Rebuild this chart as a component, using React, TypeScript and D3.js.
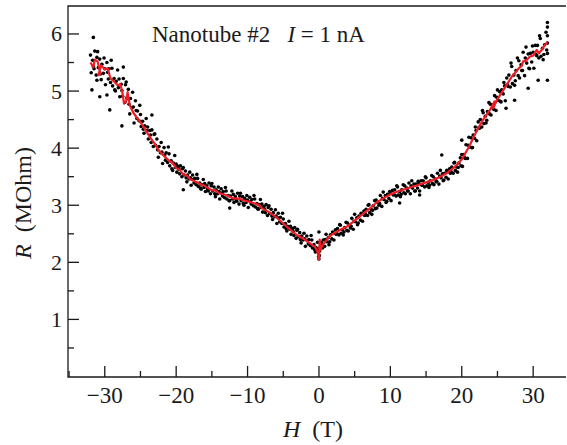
import * as d3 from "d3";
import React, { useEffect, useRef } from "react";

// measured points, negative field branch [H (T), R (MOhm)]
const scatterLeft: [number, number][] = [
  [-32, 5.63], [-31.9, 5.32], [-31.7, 5.54], [-31.6, 5.43],
  [-31.5, 5.39], [-31.4, 5.7], [-31.2, 5.28], [-31.1, 5.59],
  [-31, 5.69], [-30.9, 5.41], [-30.7, 5.56], [-30.6, 5.3],
  [-30.5, 5.2], [-30.4, 5.47], [-30.2, 5.31], [-30.1, 5.58],
  [-30, 5.39], [-29.9, 5.11], [-29.7, 5.5], [-29.6, 5.33],
  [-29.5, 5.21], [-29.4, 5.39], [-29.2, 5.15], [-29.1, 5.54],
  [-29, 5.4], [-28.9, 5.09], [-28.7, 5.22], [-28.6, 5.02],
  [-28.5, 5.0], [-28.4, 5.17], [-28.2, 5.37], [-28.1, 5.06],
  [-28, 5.21], [-27.9, 4.9], [-27.7, 5.12], [-27.6, 5.01],
  [-27.5, 4.91], [-27.4, 5.22], [-27.2, 4.8], [-27.1, 5.11],
  [-27, 5.16], [-26.9, 4.88], [-26.7, 5.03], [-26.6, 4.77],
  [-26.5, 4.6], [-26.4, 4.87], [-26.2, 4.71], [-26.1, 4.98],
  [-26, 4.72], [-25.9, 4.44], [-25.7, 4.83], [-25.6, 4.66],
  [-25.5, 4.52], [-25.4, 4.65], [-25.2, 4.48], [-25.1, 4.75],
  [-25, 4.59], [-24.9, 4.38], [-24.7, 4.47], [-24.6, 4.33],
  [-24.5, 4.26], [-24.4, 4.39], [-24.2, 4.52], [-24.1, 4.31],
  [-24, 4.37], [-23.9, 4.16], [-23.7, 4.31], [-23.6, 4.23],
  [-23.5, 4.1], [-23.4, 4.32], [-23.2, 4.03], [-23.1, 4.24],
  [-23, 4.25], [-22.9, 4.05], [-22.7, 4.16], [-22.6, 3.97],
  [-22.5, 3.84], [-22.4, 4.03], [-22.2, 3.92], [-22.1, 4.1],
  [-22, 3.93], [-21.9, 3.73], [-21.7, 4.01], [-21.6, 3.88],
  [-21.5, 3.79], [-21.4, 3.92], [-21.2, 3.75], [-21.1, 4.02],
  [-21, 3.9], [-20.9, 3.69], [-20.7, 3.78], [-20.6, 3.64],
  [-20.5, 3.61], [-20.4, 3.74], [-20.2, 3.87], [-20.1, 3.66],
  [-20, 3.72], [-19.9, 3.58], [-19.7, 3.68], [-19.6, 3.63],
  [-19.5, 3.55], [-19.4, 3.69], [-19.2, 3.5], [-19.1, 3.64],
  [-19, 3.66], [-18.9, 3.53], [-18.7, 3.6], [-18.6, 3.48],
  [-18.5, 3.41], [-18.4, 3.53], [-18.2, 3.46], [-18.1, 3.58],
  [-18, 3.48], [-17.9, 3.35], [-17.7, 3.53], [-17.6, 3.45],
  [-17.5, 3.39], [-17.4, 3.47], [-17.2, 3.36], [-17.1, 3.54],
  [-17, 3.47], [-16.9, 3.33], [-16.7, 3.39], [-16.6, 3.3],
  [-16.5, 3.28], [-16.4, 3.36], [-16.2, 3.45], [-16.1, 3.31],
  [-16, 3.38], [-15.9, 3.24], [-15.7, 3.34], [-15.6, 3.29],
  [-15.5, 3.25], [-15.4, 3.39], [-15.2, 3.2], [-15.1, 3.34],
  [-15, 3.38], [-14.9, 3.25], [-14.7, 3.32], [-14.6, 3.2],
  [-14.5, 3.15], [-14.4, 3.27], [-14.2, 3.2], [-14.1, 3.32],
  [-14, 3.24], [-13.9, 3.11], [-13.7, 3.29], [-13.6, 3.21],
  [-13.5, 3.16], [-13.4, 3.24], [-13.2, 3.13], [-13.1, 3.31],
  [-13, 3.25], [-12.9, 3.11], [-12.7, 3.17], [-12.6, 3.08],
  [-12.5, 3.08], [-12.4, 3.16], [-12.2, 3.25], [-12.1, 3.11],
  [-12, 3.19], [-11.9, 3.05], [-11.7, 3.15], [-11.6, 3.1],
  [-11.5, 3.07], [-11.4, 3.21], [-11.2, 3.02], [-11.1, 3.16],
  [-11, 3.21], [-10.9, 3.08], [-10.7, 3.15], [-10.6, 3.03],
  [-10.5, 3.0], [-10.4, 3.12], [-10.2, 3.05], [-10.1, 3.17],
  [-10, 3.09], [-9.9, 2.96], [-9.7, 3.14], [-9.6, 3.06],
  [-9.5, 3.02], [-9.4, 3.1], [-9.2, 2.99], [-9.1, 3.17],
  [-9, 3.11], [-8.9, 2.97], [-8.7, 3.03], [-8.6, 2.94],
  [-8.5, 2.93], [-8.4, 3.01], [-8.2, 3.1], [-8.1, 2.96],
  [-8, 3.02], [-7.9, 2.88], [-7.7, 2.98], [-7.6, 2.93],
  [-7.5, 2.87], [-7.4, 3.01], [-7.2, 2.82], [-7.1, 2.96],
  [-7, 2.99], [-6.9, 2.86], [-6.7, 2.93], [-6.6, 2.81],
  [-6.5, 2.75], [-6.4, 2.87], [-6.2, 2.8], [-6.1, 2.92],
  [-6, 2.81], [-5.9, 2.68], [-5.7, 2.86], [-5.6, 2.78],
  [-5.5, 2.71], [-5.4, 2.79], [-5.2, 2.68], [-5.1, 2.86],
  [-5, 2.76], [-4.9, 2.62], [-4.7, 2.68], [-4.6, 2.59],
  [-4.5, 2.55], [-4.4, 2.63], [-4.2, 2.72], [-4.1, 2.58],
  [-4, 2.63], [-3.9, 2.49], [-3.7, 2.59], [-3.6, 2.54],
  [-3.5, 2.47], [-3.4, 2.61], [-3.2, 2.42], [-3.1, 2.56],
  [-3, 2.58], [-2.9, 2.45], [-2.7, 2.52], [-2.6, 2.4],
  [-2.5, 2.34], [-2.4, 2.46], [-2.2, 2.39], [-2.1, 2.51],
  [-2, 2.41], [-1.9, 2.28], [-1.7, 2.46], [-1.6, 2.38],
  [-1.5, 2.32], [-1.4, 2.4], [-1.2, 2.29], [-1.1, 2.47],
  [-1, 2.39], [-0.9, 2.25], [-0.7, 2.31], [-0.6, 2.22],
  [-0.5, 2.18], [-0.4, 2.26], [-0.2, 2.35], [-0.1, 2.21],
];

// measured points, positive field branch
const scatterRight: [number, number][] = [
  [0, 2.24], [0.1, 2.2], [0.3, 2.35], [0.4, 2.32],
  [0.5, 2.25], [0.6, 2.39], [0.8, 2.28], [0.9, 2.4],
  [1, 2.49], [1.1, 2.36], [1.3, 2.43], [1.4, 2.31],
  [1.5, 2.36], [1.6, 2.48], [1.8, 2.41], [1.9, 2.53],
  [2, 2.52], [2.1, 2.39], [2.3, 2.57], [2.4, 2.49],
  [2.5, 2.51], [2.6, 2.59], [2.8, 2.48], [2.9, 2.66],
  [3, 2.65], [3.1, 2.51], [3.3, 2.57], [3.4, 2.48],
  [3.5, 2.53], [3.6, 2.61], [3.8, 2.7], [3.9, 2.56],
  [4, 2.69], [4.1, 2.55], [4.3, 2.65], [4.4, 2.6],
  [4.5, 2.63], [4.6, 2.77], [4.8, 2.58], [4.9, 2.72],
  [5, 2.84], [5.1, 2.71], [5.3, 2.78], [5.4, 2.66],
  [5.5, 2.69], [5.6, 2.81], [5.8, 2.74], [5.9, 2.86],
  [6, 2.85], [6.1, 2.72], [6.3, 2.9], [6.4, 2.82],
  [6.5, 2.85], [6.6, 2.93], [6.8, 2.82], [6.9, 3.0],
  [7, 3.01], [7.1, 2.87], [7.3, 2.93], [7.4, 2.84],
  [7.5, 2.91], [7.6, 2.99], [7.8, 3.08], [7.9, 2.94],
  [8, 3.09], [8.1, 2.95], [8.3, 3.05], [8.4, 3.0],
  [8.5, 3.03], [8.6, 3.17], [8.8, 2.98], [8.9, 3.12],
  [9, 3.23], [9.1, 3.1], [9.3, 3.17], [9.4, 3.05],
  [9.5, 3.07], [9.6, 3.19], [9.8, 3.12], [9.9, 3.24],
  [10, 3.21], [10.1, 3.08], [10.3, 3.26], [10.4, 3.18],
  [10.5, 3.19], [10.6, 3.27], [10.8, 3.16], [10.9, 3.34],
  [11, 3.32], [11.1, 3.18], [11.3, 3.24], [11.4, 3.15],
  [11.5, 3.19], [11.6, 3.27], [11.8, 3.36], [11.9, 3.22],
  [12, 3.34], [12.1, 3.2], [12.3, 3.3], [12.4, 3.25],
  [12.5, 3.25], [12.6, 3.39], [12.8, 3.2], [12.9, 3.34],
  [13, 3.43], [13.1, 3.3], [13.3, 3.37], [13.4, 3.25],
  [13.5, 3.25], [13.6, 3.37], [13.8, 3.3], [13.9, 3.42],
  [14, 3.38], [14.1, 3.25], [14.3, 3.43], [14.4, 3.35],
  [14.5, 3.35], [14.6, 3.43], [14.8, 3.32], [14.9, 3.5],
  [15, 3.48], [15.1, 3.34], [15.3, 3.4], [15.4, 3.31],
  [15.5, 3.35], [15.6, 3.43], [15.8, 3.52], [15.9, 3.38],
  [16, 3.5], [16.1, 3.36], [16.3, 3.46], [16.4, 3.41],
  [16.5, 3.42], [16.6, 3.56], [16.8, 3.37], [16.9, 3.51],
  [17, 3.61], [17.1, 3.48], [17.3, 3.55], [17.4, 3.43],
  [17.5, 3.44], [17.6, 3.56], [17.8, 3.49], [17.9, 3.61],
  [18, 3.59], [18.1, 3.46], [18.3, 3.64], [18.4, 3.56],
  [18.5, 3.59], [18.6, 3.67], [18.8, 3.56], [18.9, 3.74],
  [19, 3.75], [19.1, 3.61], [19.3, 3.67], [19.4, 3.58],
  [19.5, 3.66], [19.6, 3.74], [19.8, 3.83], [19.9, 3.69],
  [20, 3.89], [20.1, 3.68], [20.3, 3.89], [20.4, 3.83],
  [20.5, 3.82], [20.6, 4.06], [20.8, 3.82], [20.9, 4.05],
  [21, 4.19], [21.1, 4.02], [21.3, 4.18], [21.4, 4.01],
  [21.5, 4.01], [21.6, 4.23], [21.8, 4.17], [21.9, 4.37],
  [22, 4.31], [22.1, 4.13], [22.3, 4.46], [22.4, 4.36],
  [22.5, 4.35], [22.6, 4.5], [22.8, 4.37], [22.9, 4.66],
  [23, 4.62], [23.1, 4.43], [23.3, 4.56], [23.4, 4.44],
  [23.5, 4.49], [23.6, 4.64], [23.8, 4.8], [23.9, 4.6],
  [24, 4.77], [24.1, 4.58], [24.3, 4.76], [24.4, 4.69],
  [24.5, 4.68], [24.6, 4.92], [24.8, 4.66], [24.9, 4.89],
  [25, 5.02], [25.1, 4.84], [25.3, 4.99], [25.4, 4.82],
  [25.5, 4.81], [25.6, 5.02], [25.8, 4.95], [25.9, 5.15],
  [26, 5.09], [26.1, 4.83], [26.3, 5.23], [26.4, 5.11],
  [26.5, 5.08], [26.6, 5.28], [26.8, 5.07], [26.9, 5.49],
  [27, 5.43], [27.1, 5.13], [27.3, 5.28], [27.4, 5.1],
  [27.5, 5.18], [27.6, 5.36], [27.8, 5.58], [27.9, 5.27],
  [28, 5.53], [28.1, 5.23], [28.3, 5.46], [28.4, 5.36],
  [28.5, 5.36], [28.6, 5.68], [28.8, 5.27], [28.9, 5.58],
  [29, 5.77], [29.1, 5.49], [29.3, 5.65], [29.4, 5.4],
  [29.5, 5.39], [29.6, 5.66], [29.8, 5.51], [29.9, 5.79],
  [30, 5.68], [30.1, 5.4], [30.3, 5.8], [30.4, 5.64],
  [30.5, 5.62], [30.6, 5.8], [30.8, 5.58], [30.9, 5.97],
  [31, 5.92], [31.1, 5.61], [31.3, 5.75], [31.4, 5.55],
  [31.5, 5.64], [31.6, 5.81], [31.8, 6.03], [31.9, 5.72],
  [32, 5.97], [32, 5.66], [32, 6.12], [32, 5.84],
];

// stray points away from the band
const scatterOutliers: [number, number][] = [
  [-31.6, 5.94], [-31.1, 5.19], [-30.7, 4.9], [-29.7, 4.93], [-31.8, 5.02],
  [-29.3, 4.67], [-27.6, 4.39], [-27.4, 5.42], [-23.4, 4.58], [-19, 3.27],
  [-12.5, 2.95], [0, 2.06], [0.05, 2.12], [-0.05, 2.1], [0, 2.53],
  [11.3, 3.04], [14.1, 3.18], [17.2, 3.88], [20, 4.14], [26.2, 4.7],
  [27.4, 4.84], [29.3, 5.05], [30.7, 5.19], [32, 5.19], [32, 6.2],
];

// smoothed curve (red), in sweep order
const smoothH = [
  -32, -31.6, -31.4, -31, -30.6, -30.9, -30.5, -30, -29.6, -29.2, -28.8, -28.2,
  -27.8, -27.5, -27.3, -27, -26.8, -26.5, -26, -25.6, -25, -24.5, -24, -23.5,
  -23, -22.5, -22, -21, -20.5, -20, -19.5, -19, -18.5, -18, -17, -16.5, -16,
  -15, -14.5, -14, -13, -12, -11, -10.5, -10, -9, -8.5, -8, -7, -6, -5, -4,
  -3, -2, -1, -0.5, -0.2, 0, 0.1, 0.2, 0.5, 1, 1.5, 2, 3, 4, 5, 6, 7, 8, 9,
  10, 11, 12, 13, 14, 15, 16, 17, 18, 19, 20, 21, 22, 23, 24, 24.6, 24.4, 25,
  26, 27, 28, 28.4, 28.6, 29, 29.5, 30, 30.5, 30.8, 31.2, 31.6, 32,
];
const smoothR = [
  5.5, 5.42, 5.55, 5.52, 5.3, 5.28, 5.45, 5.38, 5.4, 5.22, 5.18, 5.1,
  5.12, 4.95, 4.78, 4.82, 4.98, 4.75, 4.62, 4.55, 4.45, 4.36, 4.26, 4.16,
  4.08, 3.97, 3.9, 3.78, 3.74, 3.65, 3.62, 3.54, 3.52, 3.45, 3.4, 3.36, 3.34,
  3.26, 3.26, 3.21, 3.18, 3.12, 3.11, 3.08, 3.07, 3.03, 3.01, 2.95, 2.88, 2.79, 2.68, 2.57,
  2.47, 2.4, 2.31, 2.26, 2.18, 2.05, 2.4, 2.22, 2.3, 2.38, 2.46, 2.5, 2.57, 2.63, 2.73, 2.83, 2.93, 3.04, 3.12,
  3.19, 3.24, 3.28, 3.32, 3.36, 3.4, 3.44, 3.5, 3.57, 3.67, 3.8, 4.02, 4.28, 4.5, 4.68, 4.82, 4.7, 4.86,
  5.05, 5.25, 5.4, 5.44, 5.52, 5.53, 5.6, 5.62, 5.72, 5.66, 5.72, 5.8, 5.86,
];

const xTicks = [-30, -20, -10, 0, 10, 20, 30];
const xMinorTicks = [-35, -25, -15, -5, 5, 15, 25];
const yTicks = [1, 2, 3, 4, 5, 6];
const yMinorTicks = [0.5, 1.5, 2.5, 3.5, 4.5, 5.5];

function MagnetoChart() {
  const ref = useRef<SVGSVGElement>(null);

  useEffect(() => {
    const svg = d3.select(ref.current);
    svg.selectAll("*").remove();

    const left = 68, right = 566, top = 6, bottom = 377;
    const x = d3.scaleLinear().domain([-35.15, 34.6]).range([left, right]);
    const y = d3.scaleLinear().domain([0, 6.49]).range([376.5, top]);
    const ink = "#1a1a1a";
    const font = "'Liberation Serif', 'Times New Roman', serif";

    // frame: left, top, bottom
    svg.append("path")
      .attr("d", `M${right},${top}H${left}V${bottom}H${right}`)
      .attr("fill", "none")
      .attr("stroke", ink)
      .attr("stroke-width", 1.3);

    const dots = [...scatterLeft, ...scatterRight, ...scatterOutliers];
    svg.append("g")
      .selectAll("circle")
      .data(dots)
      .enter()
      .append("circle")
      .attr("cx", (d) => x(d[0]))
      .attr("cy", (d) => y(d[1]))
      .attr("r", 1.8)
      .attr("fill", "#000");

    const line = d3.line<number>()
      .x((d, i) => x(smoothH[i]))
      .y((d) => y(d));
    svg.append("path")
      .datum(smoothR)
      .attr("d", line)
      .attr("fill", "none")
      .attr("stroke", "#ee1c25")
      .attr("stroke-width", 2.2)
      .attr("stroke-linejoin", "round");

    // x ticks (inward)
    const xa = svg.append("g");
    xa.selectAll(".maj").data(xTicks).enter().append("line")
      .attr("x1", (d) => x(d)).attr("x2", (d) => x(d))
      .attr("y1", bottom).attr("y2", bottom - 11)
      .attr("stroke", ink).attr("stroke-width", 1.3);
    xa.selectAll(".min").data(xMinorTicks.filter((d) => x(d) > left)).enter().append("line")
      .attr("x1", (d) => x(d)).attr("x2", (d) => x(d))
      .attr("y1", bottom).attr("y2", bottom - 6)
      .attr("stroke", ink).attr("stroke-width", 1.3);
    xa.selectAll("text").data(xTicks).enter().append("text")
      .attr("x", (d) => x(d))
      .attr("y", 403)
      .attr("text-anchor", "middle")
      .attr("font-family", font)
      .attr("font-size", 23)
      .attr("fill", ink)
      .text((d) => (d < 0 ? "\u2212" + Math.abs(d) : String(d)));

    // y ticks (inward)
    const ya = svg.append("g");
    ya.selectAll(".maj").data(yTicks).enter().append("line")
      .attr("x1", left).attr("x2", left + 11)
      .attr("y1", (d) => y(d)).attr("y2", (d) => y(d))
      .attr("stroke", ink).attr("stroke-width", 1.3);
    ya.selectAll(".min").data(yMinorTicks).enter().append("line")
      .attr("x1", left).attr("x2", left + 6)
      .attr("y1", (d) => y(d)).attr("y2", (d) => y(d))
      .attr("stroke", ink).attr("stroke-width", 1.3);
    ya.selectAll("text").data(yTicks).enter().append("text")
      .attr("x", 62)
      .attr("y", (d) => y(d) + 7.5)
      .attr("text-anchor", "end")
      .attr("font-family", font)
      .attr("font-size", 22)
      .attr("fill", ink)
      .text((d) => d);

    // axis titles
    const xt = svg.append("text")
      .attr("x", 283)
      .attr("y", 437)
      .attr("font-family", font)
      .attr("font-size", 24)
      .attr("fill", ink);
    xt.append("tspan").attr("font-style", "italic").text("H");
    xt.append("tspan").text("\u2002(T)");

    const yt = svg.append("text")
      .attr("transform", "translate(31,203) rotate(-90)")
      .attr("text-anchor", "middle")
      .attr("font-family", font)
      .attr("font-size", 24)
      .attr("fill", ink);
    yt.append("tspan").attr("font-style", "italic").text("R");
    yt.append("tspan").text("\u2002(MOhm)");

    // annotation
    const note = svg.append("text")
      .attr("x", 152)
      .attr("y", 42)
      .attr("font-family", font)
      .attr("font-size", 23)
      .attr("fill", ink);
    note.append("tspan").text("Nanotube #2\u2002 ");
    note.append("tspan").attr("font-style", "italic").text("I");
    note.append("tspan").text(" = 1 nA");
  }, []);

  return (
    <svg
      ref={ref}
      width={567}
      height={445}
      style={{ position: "absolute", left: 0, top: 0, background: "#fff" }}
    />
  );
}

export default function App() {
  return <MagnetoChart />;
}
